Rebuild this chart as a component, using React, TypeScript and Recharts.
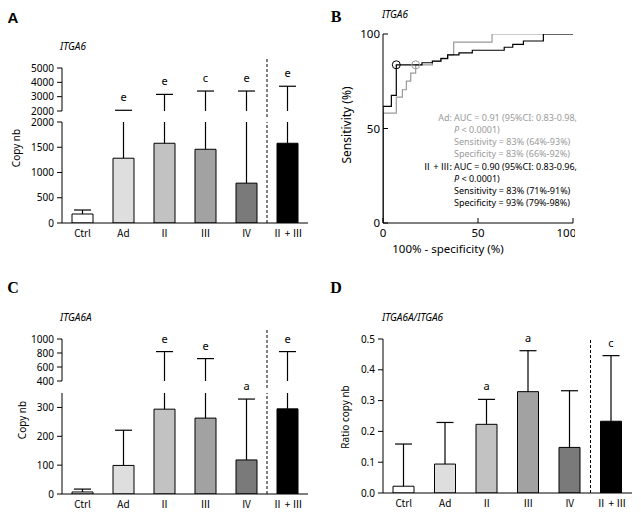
import React from 'react';
import {
  ComposedChart,
  Bar,
  Cell,
  XAxis,
  YAxis,
  ReferenceLine,
  ReferenceDot,
  LabelList,
  LineChart,
  Line,
} from 'recharts';

const FONT = "'Noto Sans', 'DejaVu Sans', sans-serif";
const CAT_FONT = "'Noto Sans CJK SC', 'Noto Sans', sans-serif";

// ---------- data ----------
const categories = ['Ctrl', 'Ad', 'Ⅱ', 'Ⅲ', 'IV', 'Ⅱ + Ⅲ'];
const barFills = ['#ffffff', '#dedede', '#c2c2c2', '#a2a2a2', '#7a7a7a', '#000000'];

// Panel A: ITGA6 copy number (mean and SD)
const itga6Mean = [178, 1283, 1579, 1460, 789, 1579];
const itga6Sd = [79, 767, 1581, 1933, 2604, 2148];
const itga6Sig = ['', 'e', 'e', 'c', 'e', 'e'];

// Panel C: ITGA6A copy number
const itga6aMean = [7, 99, 294, 263, 118, 295];
const itga6aSd = [10, 122, 526, 457, 211, 525];
const itga6aSig = ['', '', 'e', 'e', 'a', 'e'];

// Panel D: ratio ITGA6A/ITGA6
const ratioMean = [0.022, 0.094, 0.223, 0.329, 0.148, 0.233];
const ratioSd = [0.137, 0.135, 0.081, 0.133, 0.184, 0.213];
const ratioSig = ['', '', 'a', 'a', '', 'c'];

// Panel B: ROC curves (100% - specificity, sensitivity)
const adRocFpr = [0, 0, 7.0, 10.2, 12.3, 14.6, 17.2, 26.0, 30.4, 34.2, 37.2, 57.4, 100];
const adRocSens = [0, 58.1, 66.6, 70.5, 75.1, 79.3, 83.7, 85.5, 87.2, 89.0, 95.7, 100, 100];
const combRocFpr = [0, 0, 4.4, 7.0, 20.5, 26.0, 30.5, 34.0, 40.0, 47.0, 63.8, 68.3, 73.9, 84.4, 100];
const combRocSens = [0, 61.7, 67.5, 83.7, 84.8, 85.7, 87.0, 89.0, 90.0, 91.4, 93.0, 94.5, 96.3, 100, 100];
const adCutoff = { fpr: 17.2, sens: 83.7 };
const combCutoff = { fpr: 7.0, sens: 83.7 };

const adRoc = adRocFpr.map((f, i) => ({ fpr: f, sens: adRocSens[i] }));
const combRoc = combRocFpr.map((f, i) => ({ fpr: f, sens: combRocSens[i] }));

// ---------- helpers ----------
function buildRows(mean: number[], sd: number[], sig: string[], breakAt?: number) {
  return categories.map((name, i) => {
    const top = mean[i] + sd[i];
    const inUpper = breakAt !== undefined && top > breakAt;
    const lowTop = inUpper ? (breakAt as number) : top;
    return {
      name,
      fill: barFills[i],
      mean: mean[i],
      whisker: lowTop - mean[i],
      capLow: !inUpper,
      sigLow: !inUpper && sig[i] ? sig[i] : undefined,
      upperRange: inUpper ? [breakAt as number, top] : null,
      sigUp: inUpper && sig[i] ? sig[i] : undefined,
    };
  });
}

const SEP = 'Ⅱ + Ⅲ';
const tickStyle = { fontSize: 10, fill: '#000', fontFamily: FONT };
const catTickStyle = { fontSize: 10, fill: '#000', fontFamily: CAT_FONT };
const labelProps = { fill: '#000', fontSize: 11, fontFamily: FONT };

function WhiskerShape(props: any) {
  const { x, y, width, height, showCap } = props;
  if (x == null || y == null || height == null || width == null) return null;
  const cx = x + width / 2;
  const top = Math.min(y, y + height);
  const bottom = Math.max(y, y + height);
  return (
    <g>
      <line x1={cx} x2={cx} y1={top} y2={bottom} stroke="#000" strokeWidth={1.2} />
      {showCap ? (
        <line x1={cx - 8.5} x2={cx + 8.5} y1={top} y2={top} stroke="#000" strokeWidth={1.2} />
      ) : null}
    </g>
  );
}

function LowerChart(p: any) {
  const { rows, left, top, width, height, mTop, mRight, domain, ticks, fmt } = p;
  return (
    <div style={{ position: 'absolute', left, top }}>
      <ComposedChart
        width={width}
        height={height}
        data={rows}
        margin={{ top: mTop, right: mRight, bottom: 0, left: 0 }}
        barSize={21}
      >
        <XAxis
          dataKey="name"
          height={22}
          tickLine={false}
          axisLine={{ stroke: '#000', strokeWidth: 1 }}
          tick={catTickStyle}
          tickSize={4}
          tickMargin={3}
          interval={0}
        />
        <YAxis
          width={62}
          type="number"
          domain={domain}
          ticks={ticks}
          tickFormatter={fmt}
          tick={tickStyle}
          tickSize={5}
          tickMargin={3}
          interval={0}
          allowDataOverflow
          axisLine={{ stroke: '#000', strokeWidth: 1 }}
          tickLine={{ stroke: '#000', strokeWidth: 1 }}
        />
        <ReferenceLine
          x={SEP}
          position="start"
          stroke="#000"
          strokeWidth={1}
          strokeDasharray="3 2"
          ifOverflow="visible"
        />
        <Bar dataKey="mean" stackId="s" stroke="#000" strokeWidth={1} isAnimationActive={false}>
          {rows.map((r: any, i: number) => (
            <Cell key={i} fill={r.fill} />
          ))}
        </Bar>
        <Bar
          dataKey="whisker"
          stackId="s"
          isAnimationActive={false}
          shape={(sp: any) => <WhiskerShape {...sp} showCap={(sp.payload ?? sp).capLow} />}
        >
          <LabelList dataKey="sigLow" position="top" offset={9} {...labelProps} />
        </Bar>
      </ComposedChart>
    </div>
  );
}

function UpperChart(p: any) {
  const { rows, left, top, width, height, mTop, mRight, mBottom, domain, ticks, sepLow, sepHigh } = p;
  return (
    <div style={{ position: 'absolute', left, top }}>
      <ComposedChart
        width={width}
        height={height}
        data={rows}
        margin={{ top: mTop, right: mRight, bottom: mBottom, left: 0 }}
        barSize={21}
      >
        <XAxis dataKey="name" hide />
        <YAxis
          width={62}
          type="number"
          domain={domain}
          ticks={ticks}
          tick={tickStyle}
          tickSize={5}
          tickMargin={3}
          interval={0}
          allowDataOverflow
          axisLine={{ stroke: '#000', strokeWidth: 1 }}
          tickLine={{ stroke: '#000', strokeWidth: 1 }}
        />
        <ReferenceLine
          segment={[
            { x: SEP, y: sepLow },
            { x: SEP, y: sepHigh },
          ]}
          position="start"
          stroke="#000"
          strokeWidth={1}
          strokeDasharray="3 2"
          ifOverflow="visible"
        />
        <Bar
          dataKey="upperRange"
          isAnimationActive={false}
          shape={(sp: any) => <WhiskerShape {...sp} showCap />}
        >
          <LabelList dataKey="sigUp" position="top" offset={9} {...labelProps} />
        </Bar>
      </ComposedChart>
    </div>
  );
}

const rowsA = buildRows(itga6Mean, itga6Sd, itga6Sig, 2000);
const rowsC = buildRows(itga6aMean, itga6aSd, itga6aSig, 350);
const rowsD = buildRows(ratioMean, ratioSd, ratioSig);

const GRAY_TXT = '#9a9a9a';

export default function App() {
  return (
    <div
      style={{
        position: 'absolute',
        left: 0,
        top: 0,
        width: 641,
        height: 517,
        background: '#fff',
        overflow: 'hidden',
        fontFamily: FONT,
      }}
    >
      <svg width={641} height={517} style={{ position: 'absolute', left: 0, top: 0 }}>
        {/* panel letters */}
        <text x={13} y={17} fontFamily="'Liberation Sans', Arial, sans-serif" fontWeight="bold" fontSize={15} textAnchor="middle" dominantBaseline="central">A</text>
        <text x={336} y={16} fontFamily="'Liberation Serif', serif" fontWeight="bold" fontSize={16} textAnchor="middle" dominantBaseline="central">B</text>
        <text x={13} y={287} fontFamily="'Liberation Serif', serif" fontWeight="bold" fontSize={16} textAnchor="middle" dominantBaseline="central">C</text>
        <text x={336} y={287} fontFamily="'Liberation Serif', serif" fontWeight="bold" fontSize={16} textAnchor="middle" dominantBaseline="central">D</text>

        {/* titles */}
        <text x={60} y={46} fontSize={10} fontStyle="italic" dominantBaseline="central" fontFamily={FONT}>ITGA6</text>
        <text x={382} y={14} fontSize={10} fontStyle="italic" dominantBaseline="central" fontFamily={FONT}>ITGA6</text>
        <text x={60} y={317} fontSize={10} fontStyle="italic" dominantBaseline="central" fontFamily={FONT}>ITGA6A</text>
        <text x={382} y={317} fontSize={10} fontStyle="italic" dominantBaseline="central" fontFamily={FONT}>ITGA6A/ITGA6</text>

        {/* axis titles */}
        <text transform="translate(16,148) rotate(-90)" fontSize={10} textAnchor="middle" dominantBaseline="central" fontFamily={FONT}>Copy nb</text>
        <text transform="translate(22,420) rotate(-90)" fontSize={10} textAnchor="middle" dominantBaseline="central" fontFamily={FONT}>Copy nb</text>
        <text transform="translate(345,417) rotate(-90)" fontSize={10} textAnchor="middle" dominantBaseline="central" fontFamily={FONT}>Ratio copy nb</text>
        <text transform="translate(346,125) rotate(-90)" fontSize={12} textAnchor="middle" dominantBaseline="central" fontFamily={FONT}>Sensitivity (%)</text>
        <text x={448} y={248} fontSize={11.5} textAnchor="middle" dominantBaseline="central" fontFamily={FONT}>100% - specificity (%)</text>

        {/* ROC annotation */}
        <g fontSize={9} fontFamily={FONT} dominantBaseline="central">
          <text x={452} y={117} textAnchor="end" fill={GRAY_TXT}>Ad:</text>
          <text x={454} y={117} fill={GRAY_TXT}>AUC = 0.91 (95%CI: 0.83-0.98,</text>
          <text x={454} y={129} fill={GRAY_TXT}><tspan fontStyle="italic">P</tspan> &lt; 0.0001)</text>
          <text x={454} y={141} fill={GRAY_TXT}>Sensitivity = 83% (64%-93%)</text>
          <text x={454} y={153} fill={GRAY_TXT}>Specificity = 83% (66%-92%)</text>
          <text x={452} y={166} textAnchor="end" fill="#000" fontFamily={CAT_FONT}>Ⅱ + Ⅲ:</text>
          <text x={454} y={166} fill="#000">AUC = 0.90 (95%CI: 0.83-0.96,</text>
          <text x={454} y={178} fill="#000"><tspan fontStyle="italic">P</tspan> &lt; 0.0001)</text>
          <text x={454} y={190} fill="#000">Sensitivity = 83% (71%-91%)</text>
          <text x={454} y={202} fill="#000">Specificity = 93% (79%-98%)</text>
        </g>
      </svg>

      {/* Panel A */}
      <UpperChart
        rows={rowsA}
        left={0}
        top={40}
        width={320}
        height={79}
        mTop={28}
        mRight={12}
        mBottom={8}
        domain={[2000, 5000]}
        ticks={[2000, 3000, 4000, 5000]}
        sepLow={1230}
        sepHigh={5770}
      />
      <LowerChart
        rows={rowsA}
        left={0}
        top={110}
        width={320}
        height={135}
        mTop={12}
        mRight={12}
        domain={[0, 2000]}
        ticks={[0, 500, 1000, 1500, 2000]}
      />

      {/* Panel C */}
      <UpperChart
        rows={rowsC}
        left={0}
        top={300}
        width={320}
        height={89}
        mTop={39}
        mRight={12}
        mBottom={8}
        domain={[400, 1000]}
        ticks={[400, 600, 800, 1000]}
        sepLow={229}
        sepHigh={1157}
      />
      <LowerChart
        rows={rowsC}
        left={0}
        top={373}
        width={320}
        height={143}
        mTop={20}
        mRight={12}
        domain={[0, 350]}
        ticks={[0, 100, 200, 300]}
      />

      {/* Panel D */}
      <LowerChart
        rows={rowsD}
        left={321}
        top={300}
        width={311}
        height={215}
        mTop={39}
        mRight={0}
        domain={[0, 0.5]}
        ticks={[0, 0.1, 0.2, 0.3, 0.4, 0.5]}
        fmt={(v: number) => v.toFixed(1)}
      />

      {/* Panel B */}
      <div style={{ position: 'absolute', left: 321, top: 10 }}>
        <LineChart width={254} height={235} margin={{ top: 24, right: 2, bottom: 0, left: 0 }}>
          <XAxis
            type="number"
            dataKey="fpr"
            domain={[0, 100]}
            ticks={[0, 50, 100]}
            allowDataOverflow
            height={22}
            tickSize={-5}
            tickMargin={11}
            tick={{ fontSize: 11.5, fill: '#000', fontFamily: FONT }}
            axisLine={{ stroke: '#000', strokeWidth: 1 }}
            tickLine={{ stroke: '#000', strokeWidth: 1 }}
          />
          <YAxis
            type="number"
            domain={[0, 100]}
            ticks={[0, 50, 100]}
            allowDataOverflow
            width={62}
            tickSize={-5}
            tickMargin={8}
            tick={{ fontSize: 11.5, fill: '#000', fontFamily: FONT }}
            axisLine={{ stroke: '#000', strokeWidth: 1 }}
            tickLine={{ stroke: '#000', strokeWidth: 1 }}
          />
          <Line
            data={adRoc}
            dataKey="sens"
            type="stepAfter"
            stroke="#9a9a9a"
            strokeWidth={1.2}
            dot={false}
            isAnimationActive={false}
          />
          <Line
            data={combRoc}
            dataKey="sens"
            type="stepAfter"
            stroke="#000"
            strokeWidth={1.2}
            dot={false}
            isAnimationActive={false}
          />
          <ReferenceDot x={adCutoff.fpr} y={adCutoff.sens} r={4} fill="none" stroke="#9a9a9a" strokeWidth={1} ifOverflow="visible" />
          <ReferenceDot x={combCutoff.fpr} y={combCutoff.sens} r={4} fill="none" stroke="#000" strokeWidth={1} ifOverflow="visible" />
        </LineChart>
      </div>
    </div>
  );
}
